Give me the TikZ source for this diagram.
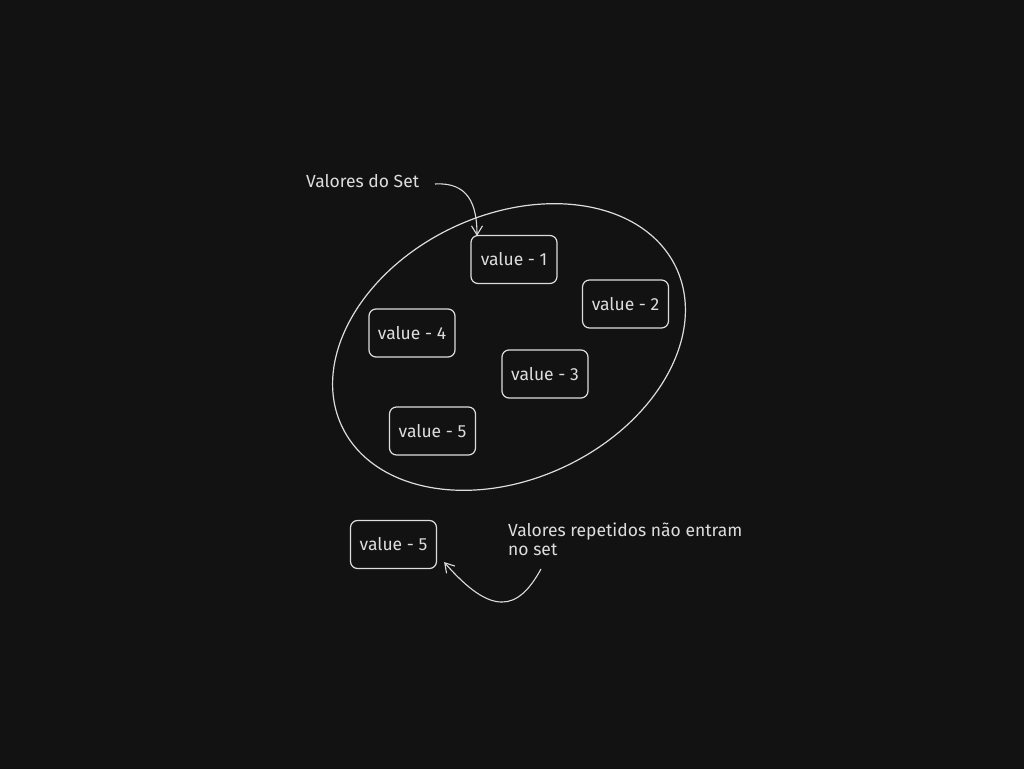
\documentclass[tikz,border=0pt]{standalone}
\usepackage{fontspec}
\setmainfont{Fira Sans}
\usetikzlibrary{arrows.meta,calc}
\definecolor{bg}{HTML}{121212}
\definecolor{ink}{HTML}{DDDDDD}
\tikzset{
  vbox/.style={draw=ink, line width=1.2pt, rounded corners=7pt, minimum width=86pt, minimum height=48pt, inner sep=0pt, text=ink, font=\fontsize{17.5}{20}\selectfont},
  lbl/.style={text=ink, font=\fontsize{17.5}{19}\selectfont, inner sep=0pt},
  conn/.style={draw=ink, line width=1.1pt, -{Straight Barb[length=9pt,width=11pt,line width=1.1pt]}},
}
\begin{document}
\begin{tikzpicture}[x=1pt,y=1pt]
\fill[bg] (0,0) rectangle (1024,769);
\useasboundingbox (0,0) rectangle (1024,769);
% set ellipse
\draw[ink, line width=1.2pt] (509,422) ellipse [x radius=185, y radius=132, rotate=25.5];
% values
\node[vbox] (v1) at (514,509.5) {value - 1};
\node[vbox] (v2) at (625.5,465) {value - 2};
\node[vbox] (v4) at (412,436) {value - 4};
\node[vbox] (v3) at (545,395) {value - 3};
\node[vbox] (v5) at (432.5,338) {value - 5};
\node[vbox] (v5o) at (393.5,224.5) {value - 5};
% labels
\node[lbl, anchor=west] (t1) at (306,588) {Valores do Set};
\node[lbl, anchor=north west, align=left] (t2) at (508,246) {Valores repetidos não entram\\no set};
% connectors
\coordinate (a1) at (435,585);
\draw[conn] (a1) .. controls (468,587) and (477,565) .. ($(v1.north)+(-37,-1)$);
\coordinate (a2) at (541,200);
\draw[conn] (a2) .. controls (518,158) and (492,152) .. ($(v5o.south east)+(7,7)$);
\end{tikzpicture}
\end{document}
